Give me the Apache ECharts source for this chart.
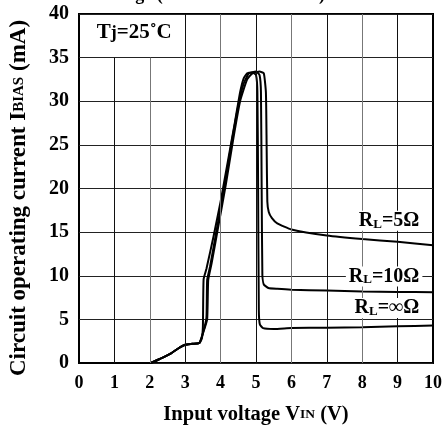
<!DOCTYPE html>
<html><head><meta charset="utf-8">
<script src="https://cdn.jsdelivr.net/npm/echarts@6/dist/echarts.min.js"></script>
<style>html,body{margin:0;padding:0;background:#fff}#c{width:446px;height:430px}</style>
</head><body><div id="c"></div>
<script>
// ---- data ----
const xTicks = [0,1,2,3,4,5,6,7,8,9,10];
const yTicks = [0,5,10,15,20,25,30,35,40];
// R_L = infinity
const vInf = [0,2,2.3,2.6,2.85,3.0,3.2,3.4,3.47,3.5,3.52,3.6,3.8,4.0,4.2,4.4,4.55,4.65,4.75,4.9,5.0,5.04,5.06,5.08,5.11,5.2,5.5,6,7,8,9,10];
const iInf = [0,0,0.5,1.1,1.8,2.1,2.2,2.3,2.8,4.2,9.6,10.8,14.5,18.5,23,27.5,31,32.6,33.2,33.3,33.0,31,20,6,4.4,4.0,3.9,4.0,4.05,4.1,4.2,4.3];
// R_L = 10 ohm
const v10 = [0,2,2.3,2.6,2.85,3.0,3.2,3.4,3.5,3.6,3.62,3.7,3.9,4.1,4.3,4.5,4.65,4.8,5.0,5.1,5.14,5.16,5.18,5.22,5.35,5.6,6,7,8,9,10];
const i10 = [0,0,0.5,1.1,1.8,2.1,2.2,2.3,3.4,5.2,9.5,11,15.5,20,25,29.5,32,33.2,33.4,33.0,31,20,10,9,8.6,8.5,8.4,8.3,8.2,8.15,8.1];
// R_L = 5 ohm
const v5 = [0,2,2.3,2.6,2.85,3.0,3.2,3.4,3.5,3.62,3.65,3.75,3.95,4.15,4.35,4.55,4.75,4.9,5.1,5.22,5.28,5.3,5.32,5.36,5.45,5.6,6,7,8,9,10];
const i5 = [0,0,0.5,1.1,1.8,2.1,2.2,2.3,3.4,5.0,9.5,11.5,16,20.5,25.5,30,32.5,33.2,33.4,33.2,31,25,18.5,17.3,16.6,16,15.3,14.6,14.2,13.9,13.5];
const curveNames = ['RL=5Ω','RL=10Ω','RL=∞Ω'];
const labelPos = [[9.7,16.3],[9.7,9.9],[9.7,6.3]];
const labelRich = ['{r|R}{s|L}{r|=5Ω}','{r|R}{s|L}{r|=10Ω}','{r|R}{s|L}{r|=∞Ω}'];

const zip = (a,b) => a.map((x,k)=>[x,b[k]]);
const F = '"Liberation Serif","Times New Roman",serif';
const rich = {
  r:{fontFamily:F,fontWeight:'bold',fontSize:20,color:'#000'},
  s:{fontFamily:F,fontWeight:'bold',fontSize:13,color:'#000',verticalAlign:'bottom'}
};
const richTj = {
  r:{fontFamily:F,fontWeight:'bold',fontSize:21,color:'#000'},
  s:{fontFamily:F,fontWeight:'bold',fontSize:18,color:'#000',verticalAlign:'bottom'}
};

// vertical grid lines (1 and 2 stop below the Tj box)
const vLines = xTicks.slice(1,-1).map(v => [
  {coord:[v,0], lineStyle:{color: v%2 ? '#111' : '#777', width:1, type:'solid'}},
  {coord:[v, v<3 ? 35 : 40]}
]);

function curve(name, data, k){
  return {
    name, type:'line', data, showSymbol:false, symbol:'none', smooth:0.15, z:3,
    lineStyle:{color:'#000', width:2},
    markPoint:{
      symbol:'circle', symbolSize:0, silent:true,
      data:[{coord:labelPos[k]}],
      label:{show:true, formatter:labelRich[k], align:'right', verticalAlign:'middle',
        backgroundColor:'#fff', padding:[0,3,0,3], rich}
    }
  };
}

const chart = echarts.init(document.getElementById('c'));
chart.setOption({
  animation:false,
  backgroundColor:'#fff',
  graphic:[{type:'text', left:95, top:-14, style:{text:'Voltage (TYPICAL VALUES)', font:'bold 18px '+F, fill:'#000'}}],
  grid:{left:77, right:13, top:14, bottom:61, show:true, borderColor:'#000', borderWidth:2, backgroundColor:'transparent'},
  xAxis:{type:'value', min:0, max:10, interval:1,
    axisLine:{show:false}, axisTick:{show:false}, splitLine:{show:false},
    axisLabel:{fontFamily:F, fontWeight:'bold', fontSize:18, color:'#000', margin:11},
    name:'Input voltage V{s|IN} (V)', nameLocation:'middle', nameGap:41, nameMoveOverlap:false,
    nameTextStyle:{fontFamily:F, fontWeight:'bold', fontSize:20.5, color:'#000',
      rich:{s:{fontFamily:F,fontWeight:'bold',fontSize:13.5,color:'#000'}}}
  },
  yAxis:{type:'value', min:0, max:40, interval:5,
    axisLine:{show:false}, axisTick:{show:false},
    splitLine:{show:true, lineStyle:{color:'#222', width:1}},
    axisLabel:{fontFamily:F, fontWeight:'bold', fontSize:20, color:'#000', margin:10},
    name:'Circuit operating current I{s|BIAS} (mA)', nameLocation:'middle', nameGap:48, nameRotate:90, nameMoveOverlap:false,
    nameTextStyle:{fontFamily:F, fontWeight:'bold', fontSize:23, color:'#000', padding:[0,19,0,0],
      rich:{s:{fontFamily:F,fontWeight:'bold',fontSize:15,color:'#000'}}}
  },
  series:[
    {type:'line', data:[], z:1, silent:true,
      markLine:{symbol:'none', silent:true, label:{show:false}, data:vLines}},
    {type:'scatter', data:[], z:4, silent:true,
      markPoint:{symbol:'circle', symbolSize:0, silent:true, data:[{coord:[1.56,37.9]}],
        label:{show:true, formatter:'{r|T}{s|j}{r|=25˚C}', align:'center', verticalAlign:'middle', rich:richTj}}},
    curve(curveNames[0], zip(v5,i5), 0),
    curve(curveNames[1], zip(v10,i10), 1),
    curve(curveNames[2], zip(vInf,iInf), 2)
  ]
});
</script></body></html>
